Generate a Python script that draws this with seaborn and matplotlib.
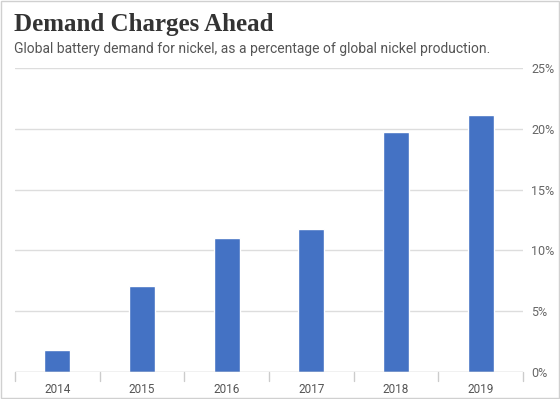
import matplotlib
matplotlib.use("Agg")
import matplotlib.pyplot as plt
import seaborn as sns
import pandas as pd
from matplotlib.patches import Rectangle

years = ["2014", "2015", "2016", "2017", "2018", "2019"]
share = [1.8, 7.1, 11.0, 11.8, 19.7, 21.1]
yticks = [0, 5, 10, 15, 20, 25]

df = pd.DataFrame({"year": years, "share": share})

sns.set_theme(style="white")
plt.rcParams["font.family"] = ["Roboto", "DejaVu Sans"]

fig = plt.figure(figsize=(5.6, 3.99), dpi=100)
ax = fig.add_axes([15 / 560, 27 / 399, 508 / 560, 304 / 399])

sns.barplot(data=df, x="year", y="share", color="#4472c4", width=0.31,
            saturation=1, ax=ax, zorder=3)

ax.set_ylim(0, 25)
ax.set_xlim(-0.5, 5.5)
ax.yaxis.tick_right()
ax.set_yticks(yticks)
ax.set_yticklabels([f"{v}%" for v in yticks], color="#666666", fontsize=9)
ax.tick_params(axis="y", length=0, pad=6)
ax.tick_params(axis="x", length=0, pad=8, labelsize=8.5, labelcolor="#555555")
for v in yticks[1:]:
    ax.axhline(v, color="#dddddd", lw=1, zorder=1)
ax.axhline(0, color="#bbbbbb", lw=1, zorder=4)
for b in range(7):
    ax.plot([b - 0.5, b - 0.5], [0, -0.7], color="#cccccc", lw=1,
            clip_on=False)
ax.set_xlabel("")
ax.set_ylabel("")
sns.despine(ax=ax, left=True, right=True, top=True, bottom=True)

fig.text(14 / 560, 1 - 31 / 399, "Demand Charges Ahead", fontsize=18,
         fontweight="bold", family="Liberation Serif", color="#333333")
fig.text(14 / 560, 1 - 53 / 399,
         "Global battery demand for nickel, as a percentage of global nickel production.",
         fontsize=10, color="#555555")

fig.patches.append(Rectangle((0.002, 0.002), 0.996, 0.996, transform=fig.transFigure,
                             fill=False, edgecolor="#d0d0d0", lw=1))

fig.savefig("out.png", dpi=100)
